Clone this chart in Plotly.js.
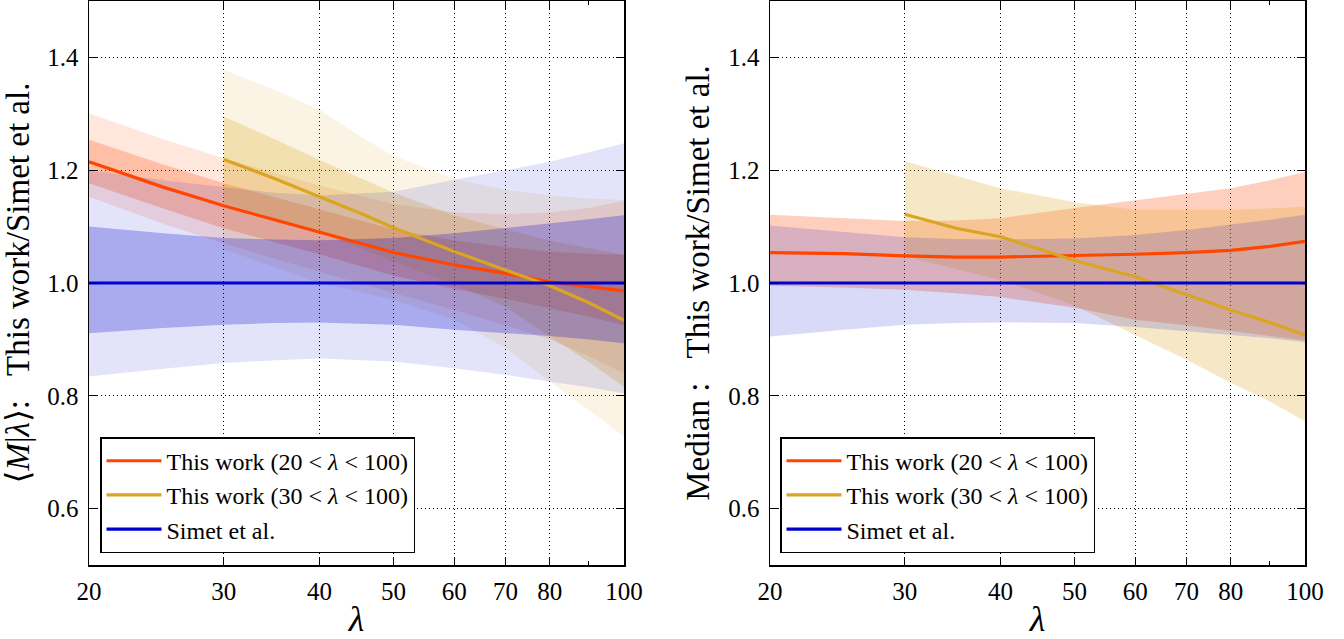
<!DOCTYPE html>
<html><head><meta charset="utf-8">
<script src="https://cdn.plot.ly/plotly-3.0.1.min.js"></script>
<style>html,body{margin:0;padding:0;background:#fff}#chart{width:1344px;height:639px}</style>
</head><body><div id="chart"></div>
<script>
// ---- axis ticks ----
const xTickVals = [20, 30, 40, 50, 60, 70, 80, 100];
const xTickText = ['20', '30', '40', '50', '60', '70', '80', '100'];
const xMinorTicks = [90];
const yTickVals = [0.6, 0.8, 1.0, 1.2, 1.4];
const yTickText = ['0.6', '0.8', '1.0', '1.2', '1.4'];

// ---- lambda grids ----
const lamFull = [20, 25, 30, 35, 40, 50, 60, 70, 80, 90, 100];
const lamCut = [30, 35, 40, 45, 50, 60, 70, 80, 90, 100];

// ---- left panel: <M|lambda> ratio ----
const meanRed      = [1.215, 1.170, 1.137, 1.112, 1.091, 1.054, 1.032, 1.017, 1.002, 0.993, 0.986];
const meanRedIn_hi = [1.254, 1.210, 1.177, 1.152, 1.131, 1.095, 1.076, 1.064, 1.056, 1.052, 1.050];
const meanRedIn_lo = [1.177, 1.132, 1.097, 1.072, 1.051, 1.013, 0.990, 0.972, 0.955, 0.940, 0.925];
const meanRedOut_hi= [1.301, 1.255, 1.221, 1.195, 1.173, 1.140, 1.125, 1.122, 1.125, 1.133, 1.146];
const meanRedOut_lo= [1.153, 1.105, 1.070, 1.043, 1.020, 0.982, 0.952, 0.925, 0.900, 0.870, 0.840];

const meanGold      = [1.219, 1.185, 1.153, 1.125, 1.098, 1.056, 1.023, 0.995, 0.965, 0.934];
const meanGoldIn_hi = [1.295, 1.255, 1.218, 1.187, 1.160, 1.120, 1.095, 1.075, 1.062, 1.050];
const meanGoldIn_lo = [1.143, 1.114, 1.088, 1.063, 1.038, 0.998, 0.958, 0.905, 0.860, 0.816];
const meanGoldOut_hi= [1.378, 1.342, 1.307, 1.262, 1.225, 1.185, 1.165, 1.155, 1.150, 1.147];
const meanGoldOut_lo= [1.060, 1.028, 1.000, 0.985, 0.970, 0.935, 0.885, 0.825, 0.775, 0.728];

const simetLine      = [1, 1, 1, 1, 1, 1, 1, 1, 1, 1, 1];
const meanBlueIn_hi  = [1.100, 1.088, 1.080, 1.077, 1.076, 1.080, 1.088, 1.097, 1.105, 1.113, 1.120];
const meanBlueIn_lo  = [0.911, 0.920, 0.926, 0.929, 0.930, 0.926, 0.917, 0.911, 0.906, 0.900, 0.893];
const meanBlueOut_hi = [1.200, 1.182, 1.170, 1.160, 1.155, 1.162, 1.183, 1.200, 1.215, 1.232, 1.248];
const meanBlueOut_lo = [0.834, 0.848, 0.858, 0.863, 0.866, 0.861, 0.849, 0.837, 0.825, 0.815, 0.804];

// ---- right panel: median ratio ----
const medRed    = [1.054, 1.052, 1.048, 1.046, 1.046, 1.048, 1.051, 1.054, 1.058, 1.065, 1.074];
const medRed_hi = [1.121, 1.115, 1.110, 1.111, 1.115, 1.133, 1.147, 1.159, 1.168, 1.182, 1.197];
const medRed_lo = [0.995, 0.992, 0.988, 0.982, 0.975, 0.956, 0.935, 0.925, 0.915, 0.906, 0.898];

const medGold    = [1.122, 1.097, 1.082, 1.060, 1.040, 1.011, 0.980, 0.952, 0.930, 0.908];
const medGold_hi = [1.216, 1.190, 1.168, 1.155, 1.143, 1.130, 1.130, 1.130, 1.132, 1.135];
const medGold_lo = [1.047, 1.025, 1.005, 0.982, 0.960, 0.908, 0.864, 0.823, 0.790, 0.755];

const medBlue_hi = [1.102, 1.090, 1.081, 1.078, 1.077, 1.079, 1.085, 1.094, 1.103, 1.112, 1.121];
const medBlue_lo = [0.905, 0.917, 0.926, 0.929, 0.930, 0.929, 0.922, 0.915, 0.908, 0.902, 0.895];

const legendNames = ['This work (20 &lt; <i>λ</i> &lt; 100)', 'This work (30 &lt; <i>λ</i> &lt; 100)', 'Simet et al.'];

// ---- style ----
const FONT = 'Liberation Serif, DejaVu Serif, serif';
const RED = '#FF4500', GOLD = '#DAA520', BLUE = '#0000CD';

function band(x, lo, hi, color, xa, ya) {
  return {x: x.concat(x.slice().reverse()), y: hi.concat(lo.slice().reverse()),
    type: 'scatter', mode: 'lines', fill: 'toself', fillcolor: color,
    line: {width: 0}, hoverinfo: 'skip', showlegend: false, xaxis: xa, yaxis: ya};
}
function line(x, y, color, name, xa, ya, leg) {
  return {x: x, y: y, type: 'scatter', mode: 'lines', line: {color: color, width: 3.2},
    name: name, legend: leg, xaxis: xa, yaxis: ya, showlegend: true};
}

const traces = [
  band(lamFull, meanRedOut_lo, meanRedOut_hi, 'rgba(255,69,0,0.13)', 'x', 'y'),
  band(lamFull, meanRedIn_lo, meanRedIn_hi, 'rgba(255,69,0,0.25)', 'x', 'y'),
  band(lamCut, meanGoldOut_lo, meanGoldOut_hi, 'rgba(218,165,32,0.12)', 'x', 'y'),
  band(lamCut, meanGoldIn_lo, meanGoldIn_hi, 'rgba(218,165,32,0.26)', 'x', 'y'),
  band(lamFull, meanBlueOut_lo, meanBlueOut_hi, 'rgba(0,0,205,0.11)', 'x', 'y'),
  band(lamFull, meanBlueIn_lo, meanBlueIn_hi, 'rgba(0,0,205,0.25)', 'x', 'y'),
  line(lamFull, meanRed, RED, legendNames[0], 'x', 'y', 'legend'),
  line(lamCut, meanGold, GOLD, legendNames[1], 'x', 'y', 'legend'),
  line(lamFull, simetLine, BLUE, legendNames[2], 'x', 'y', 'legend'),

  band(lamFull, medRed_lo, medRed_hi, 'rgba(255,69,0,0.26)', 'x2', 'y2'),
  band(lamCut, medGold_lo, medGold_hi, 'rgba(218,165,32,0.25)', 'x2', 'y2'),
  band(lamFull, medBlue_lo, medBlue_hi, 'rgba(0,0,205,0.15)', 'x2', 'y2'),
  line(lamFull, medRed, RED, legendNames[0], 'x2', 'y2', 'legend2'),
  line(lamCut, medGold, GOLD, legendNames[1], 'x2', 'y2', 'legend2'),
  line(lamFull, simetLine, BLUE, legendNames[2], 'x2', 'y2', 'legend2')
];

function xax(domain, anchor) {
  return {type: 'log', range: [Math.log10(20), Math.log10(100)], domain: domain, anchor: anchor,
    tickmode: 'array', tickvals: xTickVals, ticktext: xTickText,
    ticks: 'inside', ticklen: 8, tickwidth: 1, tickcolor: '#000', mirror: 'allticks',
    showline: true, linecolor: '#000', linewidth: 1.5,
    showgrid: true, gridcolor: '#000', gridwidth: 1, griddash: '1px,3px', zeroline: false,
    tickfont: {family: FONT, size: 25, color: '#000'}, ticklabelstandoff: 3,
    minor: {tickvals: xMinorTicks, ticklen: 4, ticks: 'inside', tickcolor: '#000', showgrid: false},
    title: {text: '<i>λ</i>', font: {family: FONT, size: 36, color: '#000'}, standoff: 4},
    automargin: false, fixedrange: true};
}
function yax(domain, anchor, title) {
  return {range: [0.5, 1.5], domain: domain, anchor: anchor,
    tickmode: 'array', tickvals: yTickVals, ticktext: yTickText,
    ticks: 'inside', ticklen: 8, tickwidth: 1, tickcolor: '#000', mirror: 'allticks',
    showline: true, linecolor: '#000', linewidth: 1.5,
    showgrid: true, gridcolor: '#000', gridwidth: 1, griddash: '1px,3px', zeroline: false,
    tickfont: {family: FONT, size: 25, color: '#000'}, ticklabelstandoff: 4,
    title: {text: title, font: {family: FONT, size: 33, color: '#000'}, standoff: 8},
    automargin: false, fixedrange: true};
}
const legStyle = (x) => ({x: x, y: 0.021, xanchor: 'left', yanchor: 'bottom',
  bgcolor: '#fff', bordercolor: '#000', borderwidth: 1.5, traceorder: 'normal',
  font: {family: FONT, size: 24, color: '#000'}, itemwidth: 55});

const W = 1216;
const layout = {
  width: 1344, height: 639,
  margin: {l: 89, r: 39, t: 1, b: 74},
  paper_bgcolor: '#fff', plot_bgcolor: '#fff',
  showlegend: true,
  xaxis: xax([0, 535 / W], 'y'),
  yaxis: yax([0, 1], 'x', '⟨<i>M</i>|<i>λ</i>⟩:\u2002 This work/Simet et al.'),
  xaxis2: xax([681 / W, 1], 'y2'),
  yaxis2: yax([0, 1], 'x2', 'Median :\u2002 This work/Simet et al.'),
  legend: legStyle(11 / W),
  legend2: legStyle(691 / W)
};

Plotly.newPlot('chart', traces, layout, {displayModeBar: false, staticPlot: true});
</script>
</body></html>
